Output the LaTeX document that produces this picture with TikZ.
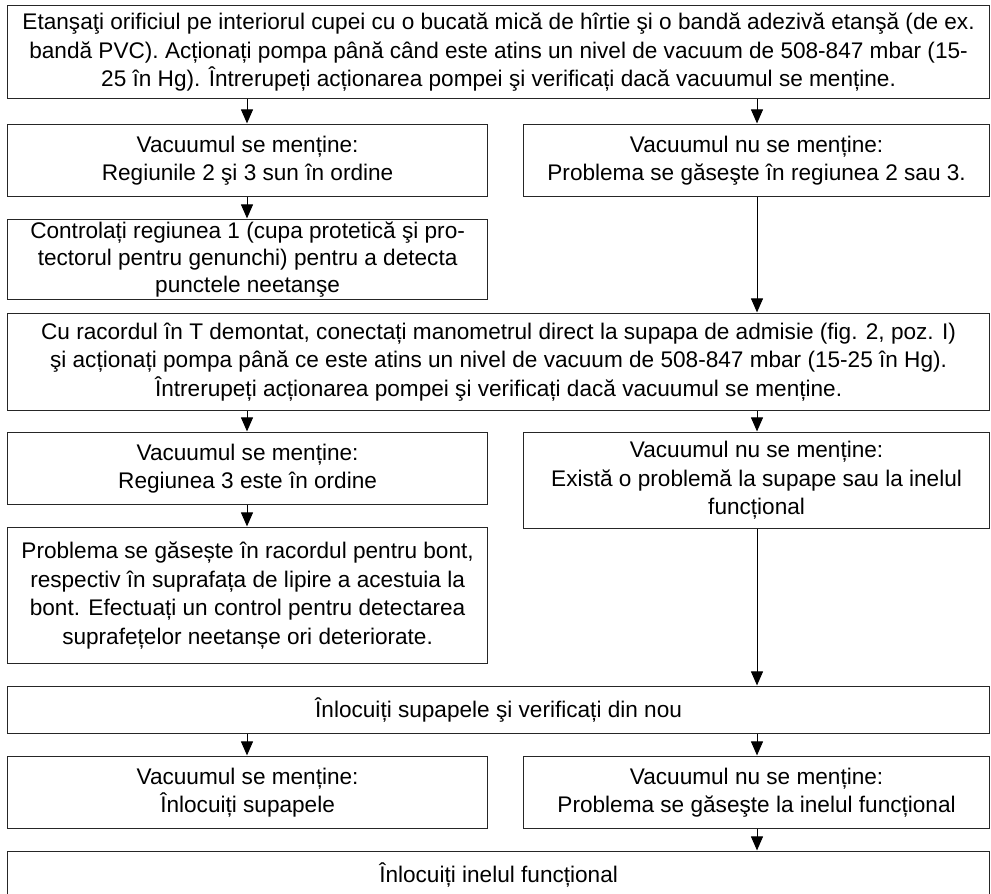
\documentclass[tikz,border=0pt]{standalone}
\usepackage{fontspec}
\setmainfont{Liberation Sans}
\usetikzlibrary{arrows.meta}

\begin{document}
\begin{tikzpicture}[x=1pt,y=-1pt,
  box/.style={draw=black!85, line width=1.2pt, fill=white, inner sep=0pt,
    align=center, anchor=north west, text=black,
    font=\fontsize{22.6}{28.4}\selectfont},
  arr/.style={draw=black, line width=1pt,
    -{Triangle[length=14pt,width=12pt]}, shorten >=0.6pt}
]
\useasboundingbox (0,0) rectangle (991,894);
\fill[white] (0,0) rectangle (991,894);

% lanes used by the vertical connectors
\coordinate (L) at (247,0);
\coordinate (R) at (757,0);

% boxes: anchored at their upper left corners, sizes in px
\node[box, minimum width=982pt, minimum height=93pt] (b1) at (7,5)
  {Etanşaţi orificiul pe interiorul cupei cu o bucată mică de hîrtie şi o bandă adezivă etanşă (de ex.\\
   bandă PVC). Acționați pompa până când este atins un nivel de vacuum de 508-847 mbar (15-\\
   25 în Hg). Întrerupeți acționarea pompei şi verificați dacă vacuumul se menține.};

\node[box, minimum width=480pt, minimum height=72pt] (b2L) at (7,124)
  {Vacuumul se menține:\\ Regiunile 2 şi 3 sun în ordine};
\node[box, minimum width=466pt, minimum height=72pt] (b2R) at (523,124)
  {Vacuumul nu se menține:\\ Problema se găseşte în regiunea 2 sau 3.};

\node[box, minimum width=480pt, minimum height=80pt,
      font=\fontsize{22.6}{27}\selectfont] (b3L) at (7,219)
  {Controlați regiunea 1 (cupa protetică şi pro-\\
   tectorul pentru genunchi) pentru a detecta\\
   punctele neetanşe};

\node[box, minimum width=982pt, minimum height=97pt] (b4) at (7,313)
  {Cu racordul în T demontat, conectați manometrul direct la supapa de admisie (fig. 2, poz. I)\\
   şi acționați pompa până ce este atins un nivel de vacuum de 508-847 mbar (15-25 în Hg).\\
   Întrerupeți acționarea pompei şi verificați dacă vacuumul se menține.};

\node[box, minimum width=480pt, minimum height=72pt] (b5L) at (7,432)
  {Vacuumul se menține:\\ Regiunea 3 este în ordine};
\node[box, minimum width=466pt, minimum height=96pt] (b5R) at (523,432)
  {Vacuumul nu se menține:\\ Există o problemă la supape sau la inelul\\ funcțional};

\node[box, minimum width=480pt, minimum height=136pt] (b6L) at (7,527)
  {Problema se găsește în racordul pentru bont,\\
   respectiv în suprafața de lipire a acestuia la\\
   bont. Efectuați un control pentru detectarea\\
   suprafețelor neetanșe ori deteriorate.};

\node[box, minimum width=982pt, minimum height=47pt] (b7) at (7,686)
  {Înlocuiți supapele şi verificați din nou};

\node[box, minimum width=480pt, minimum height=72pt] (b8L) at (7,756)
  {Vacuumul se menține:\\ Înlocuiți supapele};
\node[box, minimum width=466pt, minimum height=72pt] (b8R) at (523,756)
  {Vacuumul nu se menține:\\ Problema se găseşte la inelul funcțional};

\node[box, minimum width=982pt, minimum height=46pt] (b9) at (7,851)
  {Înlocuiți inelul funcțional};

% connectors
\draw[arr] (b1.south -| L) -- (b2L.north -| L);
\draw[arr] (b1.south -| R) -- (b2R.north -| R);
\draw[arr] (b2L.south -| L) -- (b3L.north -| L);
\draw[arr] (b2R.south -| R) -- (b4.north -| R);
\draw[arr] (b4.south -| L) -- (b5L.north -| L);
\draw[arr] (b4.south -| R) -- (b5R.north -| R);
\draw[arr] (b5L.south -| L) -- (b6L.north -| L);
\draw[arr] (b5R.south -| R) -- (b7.north -| R);
\draw[arr] (b7.south -| L) -- (b8L.north -| L);
\draw[arr] (b7.south -| R) -- (b8R.north -| R);
\draw[arr] (b8R.south -| R) -- (b9.north -| R);
\end{tikzpicture}
\end{document}
